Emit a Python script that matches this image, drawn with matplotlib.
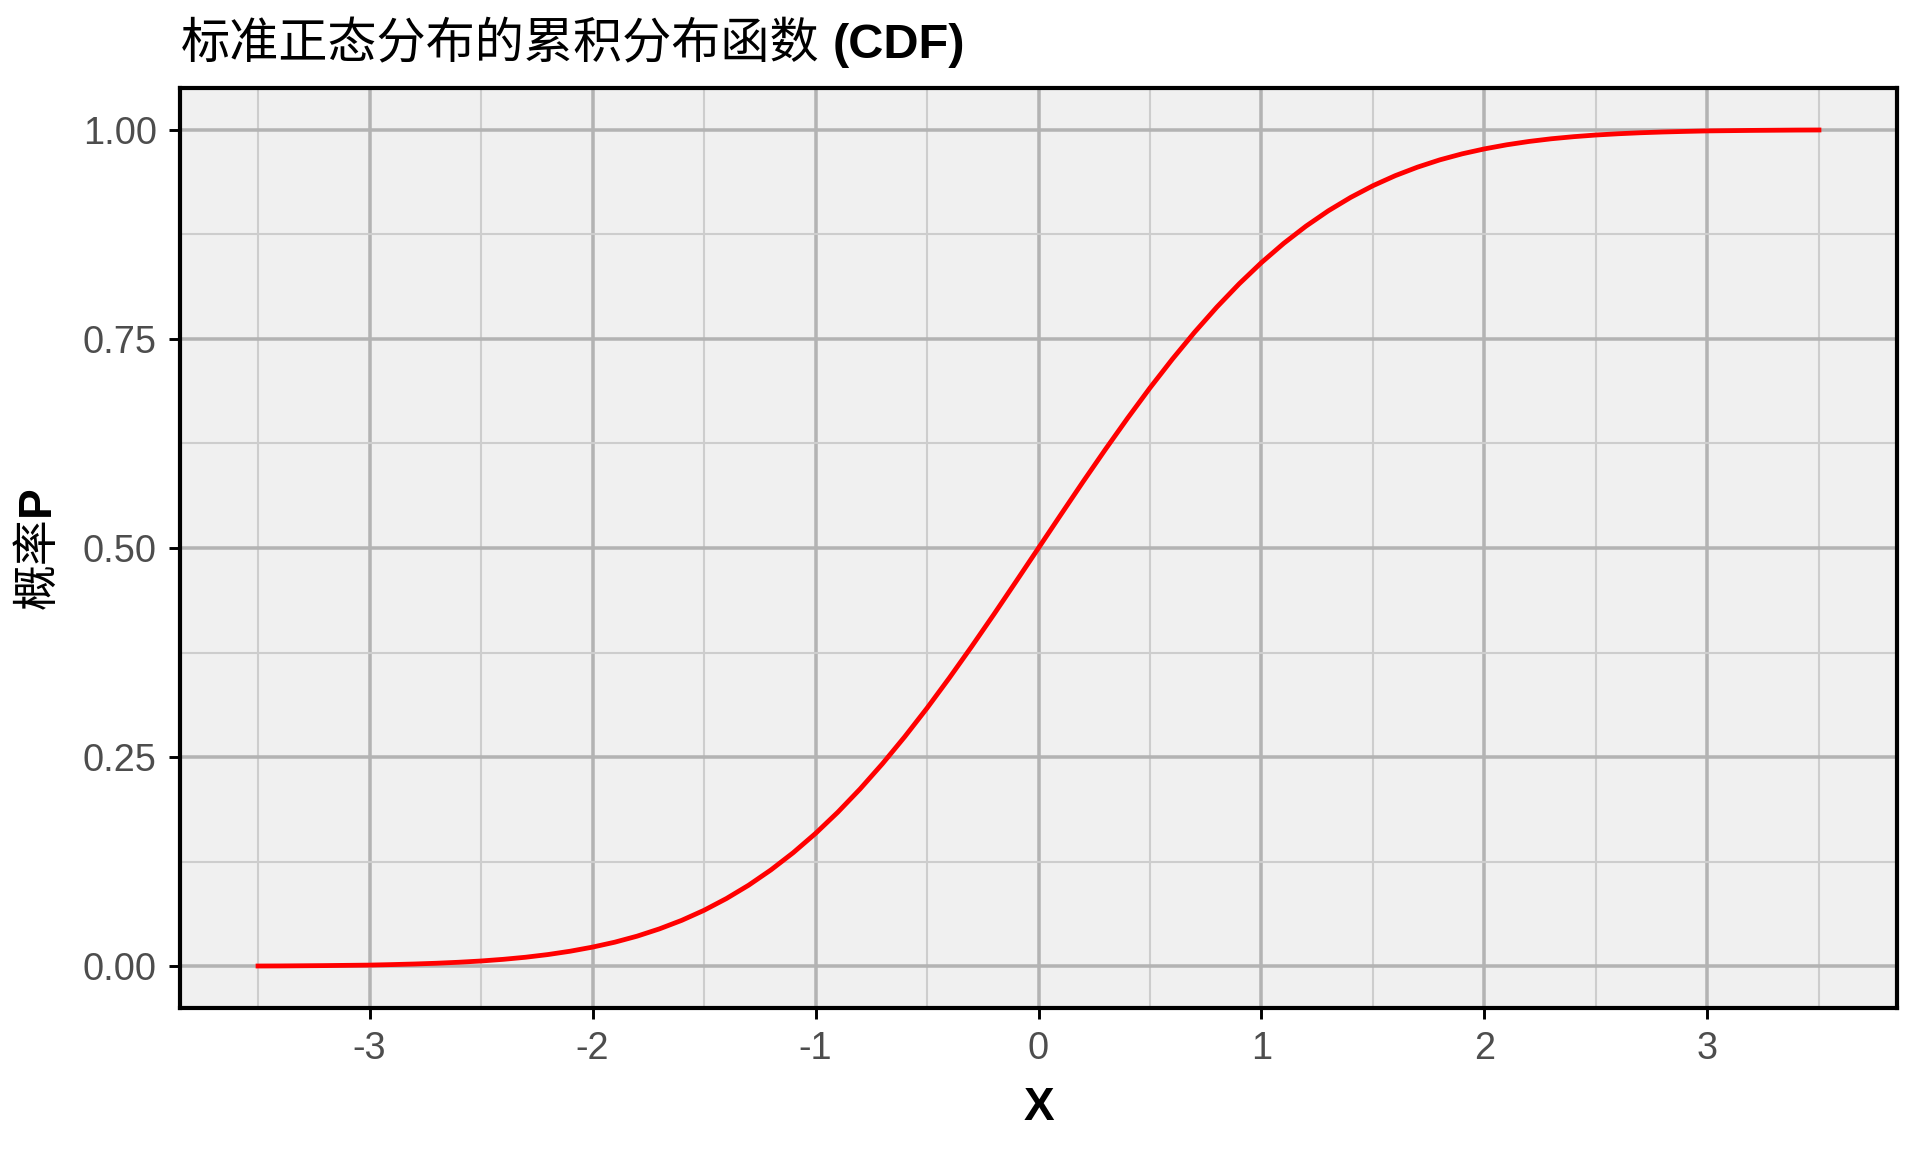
import numpy as np
import matplotlib
matplotlib.use("Agg")
import matplotlib.pyplot as plt

plt.rcParams["font.family"] = ["Liberation Sans", "Noto Sans CJK SC"]

# values
x_vals = [-3.5, -3.4, -3.3, -3.2, -3.1, -3.0, -2.9, -2.8, -2.7, -2.6,
          -2.5, -2.4, -2.3, -2.2, -2.1, -2.0, -1.9, -1.8, -1.7, -1.6,
          -1.5, -1.4, -1.3, -1.2, -1.1, -1.0, -0.9, -0.8, -0.7, -0.6,
          -0.5, -0.4, -0.3, -0.2, -0.1, 0.0, 0.1, 0.2, 0.3, 0.4,
          0.5, 0.6, 0.7, 0.8, 0.9, 1.0, 1.1, 1.2, 1.3, 1.4,
          1.5, 1.6, 1.7, 1.8, 1.9, 2.0, 2.1, 2.2, 2.3, 2.4,
          2.5, 2.6, 2.7, 2.8, 2.9, 3.0, 3.1, 3.2, 3.3, 3.4, 3.5]
p_vals = [0.0002, 0.0003, 0.0005, 0.0007, 0.0010, 0.0013, 0.0019, 0.0026, 0.0035, 0.0047,
          0.0062, 0.0082, 0.0107, 0.0139, 0.0179, 0.0228, 0.0287, 0.0359, 0.0446, 0.0548,
          0.0668, 0.0808, 0.0968, 0.1151, 0.1357, 0.1587, 0.1841, 0.2119, 0.2420, 0.2743,
          0.3085, 0.3446, 0.3821, 0.4207, 0.4602, 0.5000, 0.5398, 0.5793, 0.6179, 0.6554,
          0.6915, 0.7257, 0.7580, 0.7881, 0.8159, 0.8413, 0.8643, 0.8849, 0.9032, 0.9192,
          0.9332, 0.9452, 0.9554, 0.9641, 0.9713, 0.9772, 0.9821, 0.9861, 0.9893, 0.9918,
          0.9938, 0.9953, 0.9965, 0.9974, 0.9981, 0.9987, 0.9990, 0.9993, 0.9995, 0.9997, 0.9998]

x_ticks = [-3, -2, -1, 0, 1, 2, 3]
x_minor = [-3.5, -2.5, -1.5, -0.5, 0.5, 1.5, 2.5, 3.5]
y_ticks = [0.0, 0.25, 0.5, 0.75, 1.0]
y_minor = [0.125, 0.375, 0.625, 0.875]
y_ticklabels = ["0.00", "0.25", "0.50", "0.75", "1.00"]

title_cn = "标准正态分布的累积分布函数"
title_en = "(CDF)"
ylab_cn = "概率"
ylab_en = "P"

W, H = 1920, 1152
fig = plt.figure(figsize=(6.4, 3.84), dpi=300)
ax = fig.add_axes([180 / W, 1 - 1008 / H, (1897 - 180) / W, (1008 - 88) / H])
ax.set_facecolor("#F0F0F0")

ax.plot(x_vals, p_vals, color="red", linewidth=1.15, zorder=3)

ax.set_xlim(-3.85, 3.85)
ax.set_ylim(-0.05, 1.05)
ax.set_xticks(x_ticks)
ax.set_xticklabels([str(v) for v in x_ticks])
ax.set_xticks(x_minor, minor=True)
ax.set_yticks(y_ticks)
ax.set_yticklabels(y_ticklabels)
ax.set_yticks(y_minor, minor=True)

ax.grid(which="major", color="#B3B3B3", linewidth=0.85)
ax.grid(which="minor", color="#CDCDCD", linewidth=0.5)
ax.set_axisbelow(True)

for s in ax.spines.values():
    s.set_color("black")
    s.set_linewidth(1.0)

ax.tick_params(which="major", length=2.6, width=0.7, color="black",
               labelsize=9.1, labelcolor="#4D4D4D", pad=3.0)
ax.tick_params(which="minor", length=0)

ax.set_xlabel("X", fontsize=11, fontweight="bold", labelpad=4.5)

# title: CJK part normal, "(CDF)" bold
t1 = fig.text(181 / W, 1 - 58 / H, title_cn, fontsize=11.8,
              family="Noto Sans CJK SC", va="baseline", ha="left")
renderer = fig.canvas.get_renderer()
bb = t1.get_window_extent(renderer)
fig.text(bb.x1 / W + 13 / W, 1 - 58 / H, title_en, fontsize=11.7,
         fontweight="bold", va="baseline", ha="left")

# y label: "概率" normal + "P" bold, stacked vertically
yl1 = fig.text(37 / W, 0.5, ylab_cn, fontsize=11, family="Noto Sans CJK SC",
               rotation=90, ha="center", va="bottom")
yl2 = fig.text(37 / W, 0.5, ylab_en, fontsize=11, fontweight="bold",
               rotation=90, ha="center", va="bottom")
h1 = yl1.get_window_extent(renderer).height
h2 = yl2.get_window_extent(renderer).height
center = H - 548
y0 = center - (h1 + h2) / 2
yl1.set_y(y0 / H)
yl2.set_y((y0 + h1 + 2) / H)

fig.savefig("out.png", dpi=300)
